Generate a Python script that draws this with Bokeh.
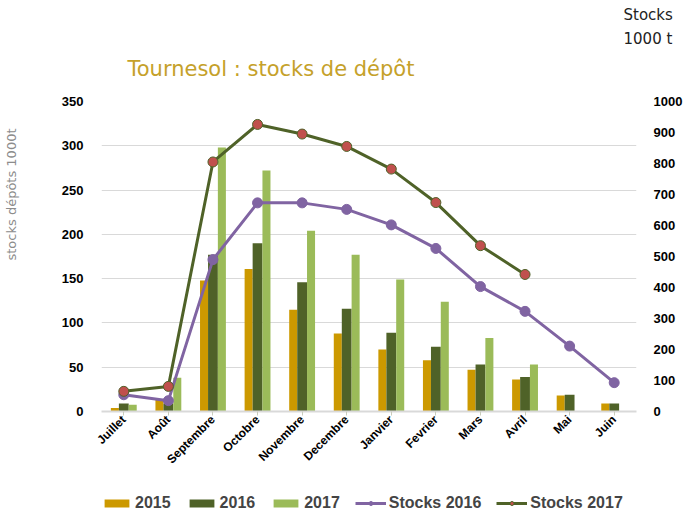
import math
from bokeh.plotting import figure
from bokeh.layouts import column
from bokeh.models import (ColumnDataSource, FactorRange, Range1d, LinearAxis, Title,
                          Legend, LegendItem)
from bokeh.transform import dodge
from bokeh.embed import file_html
from bokeh.resources import INLINE

months = ["Juillet", "Août", "Septembre", "Octobre", "Novembre", "Decembre",
          "Janvier", "Fevrier", "Mars", "Avril", "Mai", "Juin"]
y2015 = [4, 13, 148, 161, 115, 88, 70, 58, 47, 36, 18, 9]
y2016 = [9, 9, 177, 190, 146, 116, 89, 73, 53, 39, 19, 9]
y2017 = [7.5, 38, 298, 272, 204, 177, 149, 124, 83, 53, 0, 0]
stocks2016 = [54, 35, 490, 673, 673, 652, 602, 526, 403, 323, 211, 93]
stocks2017 = [65, 81, 805, 926, 895, 855, 782, 674, 535, 442]
series_names = ["2015", "2016", "2017", "Stocks 2016", "Stocks 2017"]

left_ticks = [0, 50, 100, 150, 200, 250, 300, 350]
right_ticks = [0, 100, 200, 300, 400, 500, 600, 700, 800, 900, 1000]

C2015 = "#CC9900"
C2016 = "#4F6228"
C2017 = "#9BBB59"
CS16 = "#8064A2"
CS17 = "#4F6228"
CRED = "#C0504D"
FONT = "Liberation Sans"
NB = "\u00a0"

bars = ColumnDataSource(dict(m=months, a=y2015, b=y2016, c=y2017))
s16 = ColumnDataSource(dict(m=months, v=stocks2016))
s17 = ColumnDataSource(dict(m=months[:len(stocks2017)], v=stocks2017))


def draw_series(fig, right_name=None):
    kw = {} if right_name is None else {"y_range_name": right_name}
    r15 = fig.vbar(x=dodge("m", -0.2, range=fig.x_range), top="a", width=0.18,
                   source=bars, fill_color=C2015, line_color=None)
    r16 = fig.vbar(x=dodge("m", 0.0, range=fig.x_range), top="b", width=0.22,
                   source=bars, fill_color=C2016, line_color=None)
    r17 = fig.vbar(x=dodge("m", 0.2, range=fig.x_range), top="c", width=0.18,
                   source=bars, fill_color=C2017, line_color=None)
    l16 = fig.line("m", "v", source=s16, line_color=CS16, line_width=3, **kw)
    m16 = fig.scatter("m", "v", source=s16, size=10, fill_color=CS16,
                      line_color=CS16, **kw)
    l17 = fig.line("m", "v", source=s17, line_color=CS17, line_width=3, **kw)
    m17 = fig.scatter("m", "v", source=s17, size=10, fill_color=CRED,
                      line_color=CS17, line_width=1, **kw)
    return [[r15], [r16], [r17], [l16, m16], [l17, m17]]


p = figure(width=685, height=485, x_range=FactorRange(*months, range_padding=0),
           y_range=Range1d(0, 350), output_backend="svg", toolbar_location=None,
           min_border_left=100, min_border_right=44, min_border_top=101,
           min_border_bottom=74, title=None)
p.outline_line_color = None
p.extra_y_ranges = {"right": Range1d(0, 1000)}
draw_series(p, "right")

# left axis (its label carries the vertical title)
ya = p.yaxis[0]
ya.ticker = left_ticks
ya.axis_line_color = None
ya.major_tick_line_color = None
ya.minor_tick_line_color = None
ya.major_label_standoff = 12
ya.major_label_text_font = FONT
ya.major_label_text_font_style = "bold"
ya.major_label_text_font_size = "13px"
ya.major_label_text_color = "#000000"
ya.axis_label = NB * 30 + "stocks dépôts 1000t"
ya.axis_label_standoff = 40
ya.axis_label_text_font = "DejaVu Sans"
ya.axis_label_text_font_size = "13px"
ya.axis_label_text_font_style = "normal"
ya.axis_label_text_color = "#8C8C8C"

# right axis
ra = LinearAxis(y_range_name="right", ticker=right_ticks)
ra.axis_line_color = None
ra.major_tick_line_color = None
ra.minor_tick_line_color = None
ra.major_label_standoff = 11
ra.major_label_text_font = FONT
ra.major_label_text_font_style = "bold"
ra.major_label_text_font_size = "13px"
ra.major_label_text_color = "#000000"
p.add_layout(ra, "right")

# x axis
xa = p.xaxis[0]
xa.axis_line_color = "#D9D9D9"
xa.axis_line_width = 2
xa.major_tick_line_color = "#C8CCBC"
xa.major_tick_out = 4
xa.major_tick_in = 0
xa.major_label_orientation = math.pi / 4
xa.major_label_standoff = 2
xa.major_label_text_font = FONT
xa.major_label_text_font_style = "bold"
xa.major_label_text_font_size = "12px"
xa.major_label_text_color = "#000000"

p.xgrid.grid_line_color = None
p.ygrid.grid_line_color = "#D9D9D9"
p.ygrid.ticker = left_ticks

# titles in the top panel (first added = closest to the plot)
p.add_layout(Title(text="Tournesol : stocks de dépôt", align="left", offset=26,
                   standoff=40.8, text_font="DejaVu Sans", text_font_size="21px",
                   text_font_style="normal", text_color="#C5A12A"), "above")
p.add_layout(Title(text="Stocks\n1000 t", align="left", offset=522, standoff=-28,
                   text_line_height=1.35, text_font="DejaVu Sans",
                   text_font_size="15px", text_font_style="normal",
                   text_color="#222222"), "above")

# legend strip below the chart (its series lie outside its visible range)
lg = figure(width=685, height=28, x_range=p.x_range, y_range=Range1d(5000, 6000),
            output_backend="svg", toolbar_location=None, x_axis_type=None,
            y_axis_type=None, min_border_left=100, min_border_right=44,
            min_border_top=0, min_border_bottom=0, title=None)
lg.outline_line_color = None
lg.xgrid.grid_line_color = None
lg.ygrid.grid_line_color = None
groups = draw_series(lg)

legend = Legend(items=[LegendItem(label=n, renderers=g)
                       for n, g in zip(series_names, groups)],
                orientation="horizontal", location=(0, 1), padding=0, margin=0,
                spacing=15, glyph_width=31, glyph_height=10, label_height=16,
                label_standoff=3, label_text_font=FONT, label_text_font_style="bold",
                label_text_font_size="16px", border_line_color=None,
                background_fill_alpha=0)
lg.add_layout(legend, "center")

layout = column(p, lg, spacing=0)
open("out.html", "w").write(file_html(layout, INLINE))
